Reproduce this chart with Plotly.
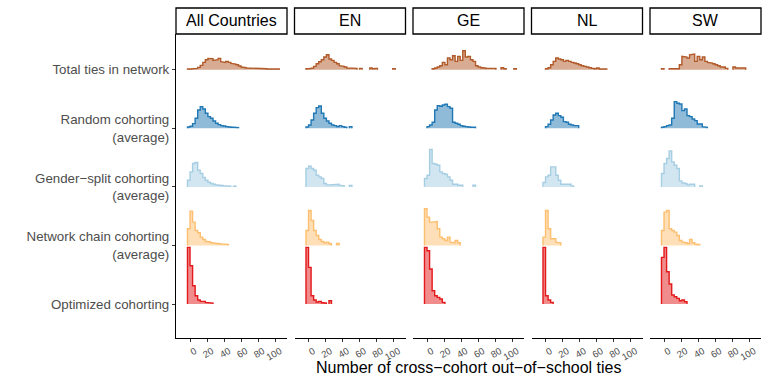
import plotly.graph_objects as go

# ---------------- data (histogram bin heights, relative frequencies) ----------------
PANELS = ["All Countries", "EN", "GE", "NL", "SW"]
CATEGORIES = ["Total ties in network", "Random cohorting<br>(average)",
              "Gender\u2212split cohorting<br>(average)",
              "Network chain cohorting<br>(average)", "Optimized cohorting"]
X_TICKS = [0, 20, 40, 60, 80, 100]
BIN_START = -3
BIN_WIDTH = 3

ALL_TOTAL = [2, 2, 3, 4, 7, 13, 22, 30, 34, 33, 28, 30, 34, 24, 22, 25, 22, 19, 17, 15, 11, 8, 6, 5, 5, 4, 4, 3, 4, 3, 3, 2, 2, 2, 2, 2]
ALL_RANDOM = [4, 6, 14, 30, 55, 65, 58, 45, 35, 30, 22, 15, 11, 8, 7, 5, 4, 3, 3, 2]
ALL_GENDER = [20, 45, 70, 73, 50, 40, 28, 20, 14, 10, 8, 6, 5, 4, 3, 3, 2, 0, 2]
ALL_NETWORK = [50, 103, 70, 45, 38, 25, 18, 12, 11, 8, 7, 6, 5, 4, 4, 3]
ALL_OPTIMIZED = [170, 115, 55, 25, 12, 8, 8, 5, 4, 3]

EN_TOTAL = [3, 3, 5, 10, 18, 24, 30, 38, 45, 32, 28, 22, 18, 12, 10, 8, 5, 4, 4, 4, 0, 4, 0, 0, 0, 5, 3, 4, 0, 0, 0, 0, 0, 0, 3]
EN_RANDOM = [4, 10, 25, 45, 62, 67, 45, 30, 22, 15, 10, 8, 5, 8, 5, 3, 0, 5]
EN_GENDER = [55, 62, 55, 50, 35, 30, 25, 10, 6, 6, 6, 7, 8, 5, 3, 0, 0, 4]
EN_NETWORK = [45, 105, 75, 45, 30, 18, 12, 8, 10, 5, 0, 0, 6]
EN_OPTIMIZED = [170, 110, 25, 12, 6, 8, 4, 3, 0, 10]

GE_TOTAL = [0, 0, 0, 3, 5, 8, 12, 22, 15, 35, 30, 42, 25, 40, 28, 57, 38, 40, 30, 25, 12, 8, 6, 5, 4, 4, 4, 4, 0, 0, 6, 3, 0, 0, 0, 3]
GE_RANDOM = [0, 5, 10, 18, 55, 68, 66, 70, 72, 65, 60, 18, 15, 12, 8, 6, 5, 4, 3, 3]
GE_GENDER = [25, 35, 112, 70, 68, 65, 45, 40, 38, 30, 20, 8, 8, 5, 5, 0, 0, 0, 0, 5]
GE_NETWORK = [110, 85, 70, 70, 72, 50, 25, 20, 15, 25, 10, 8, 15, 8]
GE_OPTIMIZED = [170, 160, 105, 40, 25, 20, 15, 5]

NL_TOTAL = [0, 3, 6, 15, 25, 35, 32, 30, 25, 28, 25, 22, 20, 18, 15, 12, 10, 8, 6, 4, 3, 5, 2, 2, 2]
NL_RANDOM = [0, 5, 12, 25, 40, 45, 38, 33, 20, 18, 12, 10, 8, 8]
NL_GENDER = [13, 30, 35, 60, 60, 35, 20, 8, 8, 6, 8, 3]
NL_NETWORK = [25, 105, 50, 20, 20, 10, 8]
NL_OPTIMIZED = [170, 25, 12, 5]

SW_TOTAL = [3, 0, 0, 3, 3, 3, 3, 15, 40, 38, 35, 45, 47, 25, 40, 30, 38, 25, 22, 20, 18, 15, 12, 8, 8, 4, 0, 0, 8, 5, 5, 6, 5]
SW_RANDOM = [3, 5, 8, 10, 30, 80, 75, 73, 53, 58, 38, 35, 28, 23, 13, 13, 5, 3]
SW_GENDER = [40, 70, 85, 108, 75, 65, 55, 18, 12, 10, 6, 8, 8, 0, 0, 3]
SW_NETWORK = [45, 100, 105, 50, 45, 40, 30, 15, 10, 8, 6, 18, 8, 4, 3]
SW_OPTIMIZED = [140, 170, 97, 60, 27, 22, 17, 10, 12, 7]

PANEL_DATA = [
    [ALL_TOTAL, ALL_RANDOM, ALL_GENDER, ALL_NETWORK, ALL_OPTIMIZED],
    [EN_TOTAL, EN_RANDOM, EN_GENDER, EN_NETWORK, EN_OPTIMIZED],
    [GE_TOTAL, GE_RANDOM, GE_GENDER, GE_NETWORK, GE_OPTIMIZED],
    [NL_TOTAL, NL_RANDOM, NL_GENDER, NL_NETWORK, NL_OPTIMIZED],
    [SW_TOTAL, SW_RANDOM, SW_GENDER, SW_NETWORK, SW_OPTIMIZED],
]

# ---------------- styling ----------------
LINE_COLORS = ["#B15928", "#1F78B4", "#A6CEE3", "#FDBF6F", "#E31A1C"]


def rgba(hexc, a):
    h = hexc.lstrip("#")
    return "rgba(%d,%d,%d,%s)" % (int(h[0:2], 16), int(h[2:4], 16), int(h[4:6], 16), a)


BASES = [5, 4, 3, 2, 1]  # Total at top
SCALE = 0.967
FONT = "Liberation Sans, Arial, sans-serif"

W, H = 769, 385
ML, MR, MT, MB = 176, 8, 8, 47
PW = W - ML - MR
PH = H - MT - MB
PANEL_W = 111
PANEL_STEP = 118.5
Y_TOP = 1 - 26 / PH


def ridge_paths(counts, base, scale):
    xs, ys = [], []
    n = len(counts)
    i = 0
    while i < n:
        if counts[i] <= 0:
            i += 1
            continue
        j = i
        while j + 1 < n and counts[j + 1] > 0:
            j += 1
        e = lambda k: BIN_START + k * BIN_WIDTH
        xs.append(e(i)); ys.append(base)
        for k in range(i, j + 1):
            hgt = base + counts[k] * scale
            xs += [e(k), e(k + 1)]
            ys += [hgt, hgt]
        xs.append(e(j + 1)); ys.append(base)
        xs.append(None); ys.append(None)
        i = j + 1
    return xs, ys


fig = go.Figure()
layout_axes = {}
shapes = []
annotations = []

for p, pname in enumerate(PANELS):
    ax = "" if p == 0 else str(p + 1)
    x0 = p * PANEL_STEP / PW
    x1 = min((p * PANEL_STEP + PANEL_W) / PW, 1)
    pmax = max(max(c) for c in PANEL_DATA[p])
    scale = SCALE / pmax
    for c in range(5):
        xs, ys = ridge_paths(PANEL_DATA[p][c], BASES[c], scale)
        fig.add_trace(go.Scatter(x=xs, y=ys, xaxis="x" + ax, yaxis="y", mode="lines",
                                 fill="toself", fillcolor=rgba(LINE_COLORS[c], 0.5),
                                 line=dict(width=0), hoverinfo="skip", showlegend=False))
        fig.add_trace(go.Scatter(x=xs, y=ys, xaxis="x" + ax, yaxis="y", mode="lines",
                                 line=dict(color=LINE_COLORS[c], width=1.4),
                                 hoverinfo="skip", showlegend=False))
    layout_axes["xaxis" + ax] = dict(
        domain=[x0, x1], anchor="y", range=[-16.5, 114],
        tickvals=X_TICKS, ticktext=[str(t) for t in X_TICKS],
        showline=True, linecolor="black", linewidth=1.2,
        ticks="outside", ticklen=3, tickcolor="#333333", tickwidth=1,
        tickangle=-30, ticklabelshift=5,
        tickfont=dict(size=9.5, color="#4d4d4d", family=FONT),
        showgrid=False, zeroline=False, fixedrange=True)
    shapes.append(dict(type="rect", xref="paper", yref="paper",
                       x0=x0, x1=x1, y0=Y_TOP, y1=1.0,
                       line=dict(color="black", width=1.3), fillcolor="white"))
    annotations.append(dict(text=pname, xref="paper", yref="paper",
                            x=(x0 + x1) / 2, y=(Y_TOP + 1) / 2,
                            showarrow=False, xanchor="center", yanchor="middle",
                            font=dict(size=16, color="black", family=FONT)))

annotations.append(dict(text="Number of cross\u2212cohort out\u2212of\u2212school ties",
                        xref="paper", yref="paper", x=0.5, y=(H - MB - 367) / PH,
                        showarrow=False, xanchor="center", yanchor="middle",
                        font=dict(size=16, color="black", family=FONT)))

fig.update_layout(
    width=W, height=H,
    margin=dict(l=ML, r=MR, t=MT, b=MB),
    paper_bgcolor="white", plot_bgcolor="white",
    yaxis=dict(domain=[0, Y_TOP], anchor="x", range=[0.42, 5.61],
               tickvals=BASES, ticktext=CATEGORIES,
               showline=True, linecolor="black", linewidth=1.2,
               ticks="outside", ticklen=3, tickcolor="#333333",
               tickfont=dict(size=13.3, color="#4d4d4d", family=FONT),
               showgrid=False, zeroline=False, fixedrange=True),
    shapes=shapes, annotations=annotations,
    **layout_axes,
)

fig.write_html("out.html", config={"displayModeBar": False},
               post_script="document.body.style.margin='0';")
